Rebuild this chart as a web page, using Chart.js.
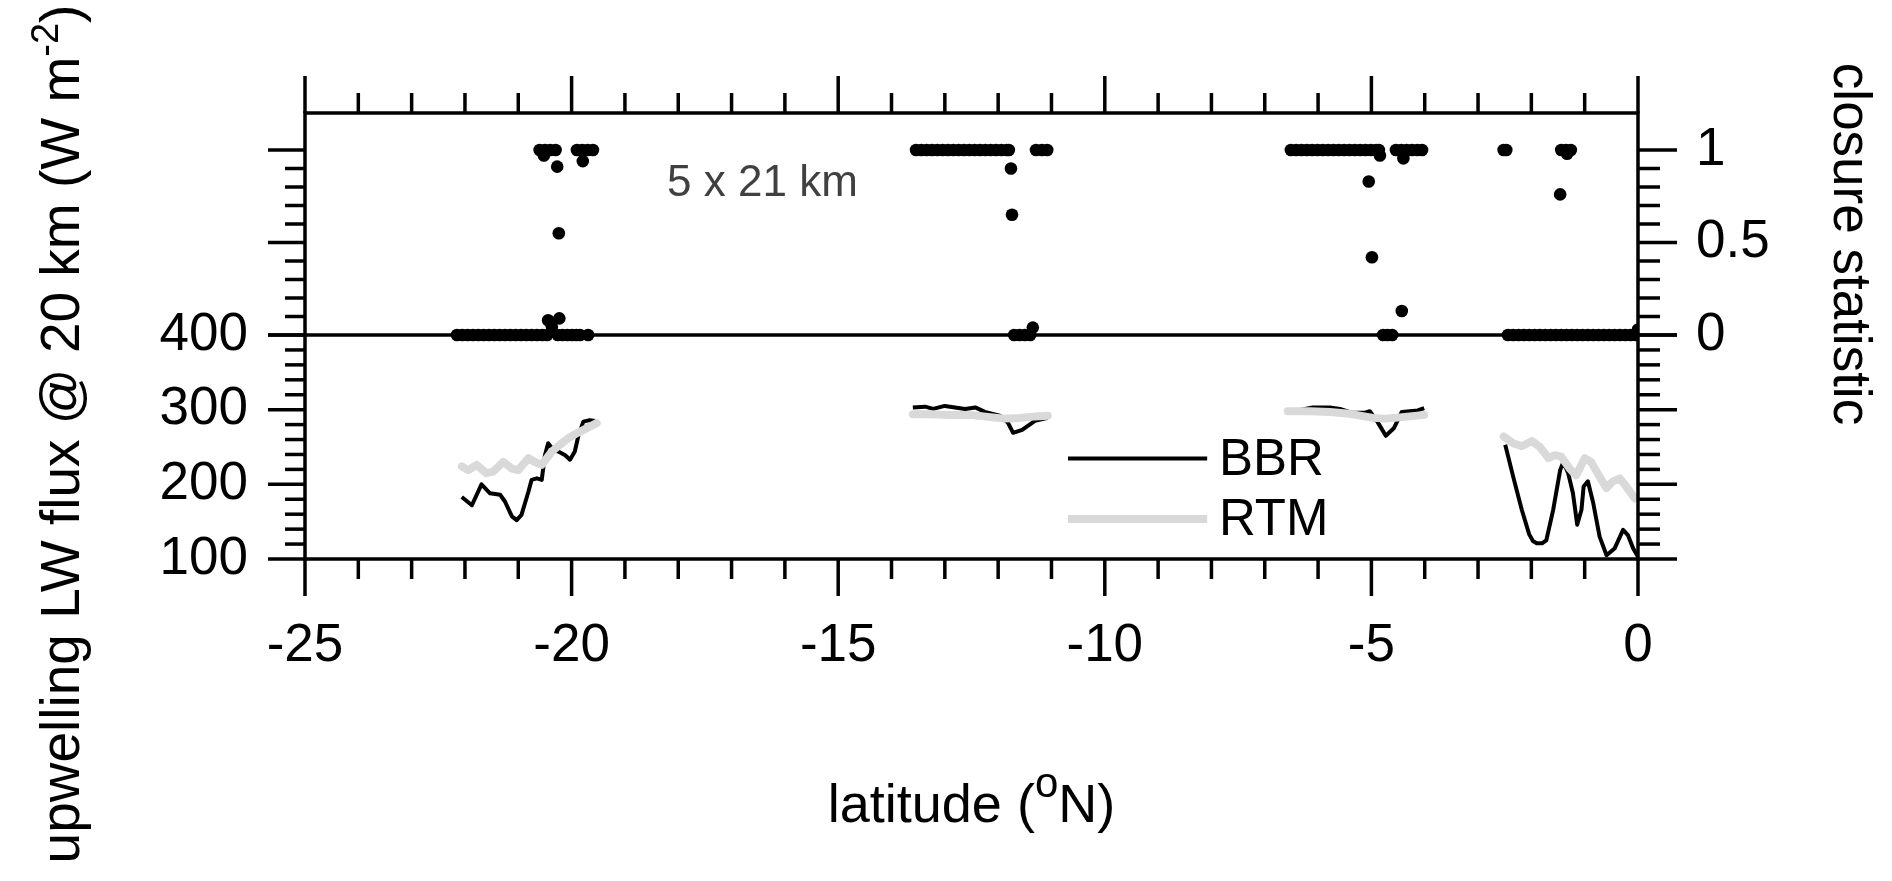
<!DOCTYPE html>
<html>
<head>
<meta charset="utf-8">
<script src="https://cdn.jsdelivr.net/npm/chart.js@4.4.1/dist/chart.umd.min.js"></script>
<style>
  html, body { margin: 0; padding: 0; background: #fff; }
</style>
</head>
<body>
<canvas id="chart" width="1892" height="881"></canvas>
<script>
const FONT = "'Liberation Sans', Arial, sans-serif";

// axis tick labels
const latTicks = [-25, -20, -15, -10, -5, 0];
const fluxTicks = [100, 200, 300, 400];
const closureTicks = [0, 0.5, 1];

// BBR flux (null = gap between flight legs)
const bbrLat = [
  -22.06, -21.87, -21.69, -21.53, -21.34, -21.25, -21.12, -21.03, -20.94, -20.81, -20.75, -20.65,
  -20.56, -20.50, -20.44, -20.34, -20.25, -20.12, -20.03, -19.94, -19.87, -19.78, -19.66, -19.56, null,
  -13.60, -13.37, -13.22, -13.00, -12.81, -12.62, -12.43, -12.25, -11.97, -11.82, -11.72, -11.55, -11.31, -11.07, null,
  -6.53, -6.10, -5.78, -5.59, -5.37, -5.12, -5.03, -4.88, -4.73, -4.58, -4.43, -4.28, -4.13, -4.01, null,
  -2.49, -2.34, -2.18, -2.04, -1.97, -1.90, -1.80, -1.72, -1.59, -1.46, -1.40, -1.31, -1.22, -1.14, -1.06,
  -1.02, -0.94, -0.84, -0.72, -0.59, -0.44, -0.28, -0.19, -0.09, 0
];
const bbrFlux = [
  183, 172, 200, 188, 186, 177, 157, 152, 159, 190, 206, 208,
  206, 239, 255, 246, 244, 239, 233, 244, 266, 284, 286, 285, null,
  303, 304, 301, 305, 303, 301, 303, 297, 292, 283, 269, 273, 285, 289, null,
  297, 303, 303, 301, 296, 296, 298, 283, 265, 275, 297, 298, 299, 302, null,
  253, 210, 166, 133, 124, 121, 121, 125, 166, 219, 230, 215, 188, 146, 166,
  197, 204, 175, 130, 105, 114, 139, 132, 114, 103
];

// RTM flux
const rtmLat = [
  -22.06, -21.94, -21.78, -21.60, -21.47, -21.28, -21.12, -21.00, -20.81, -20.69, -20.56, -20.37,
  -20.22, -20.06, -19.91, -19.72, -19.53, null,
  -13.60, -13.28, -12.90, -12.53, -12.15, -11.87, -11.59, -11.31, -11.07, null,
  -6.57, -6.15, -5.78, -5.46, -5.21, -4.97, -4.74, -4.56, -4.28, -4.01, null,
  -2.52, -2.34, -2.18, -1.99, -1.84, -1.68, -1.56, -1.44, -1.28, -1.16, -1.00, -0.88,
  -0.72, -0.59, -0.47, -0.34, -0.22, -0.06
];
const rtmFlux = [
  224, 219, 226, 215, 217, 230, 221, 219, 235, 230, 226, 244,
  253, 262, 268, 275, 282, null,
  294, 294, 293, 293, 290, 288, 289, 291, 292, null,
  298, 298, 297, 295, 292, 289, 288, 289, 291, 293, null,
  264, 255, 251, 258, 250, 235, 239, 237, 221, 212, 235, 230,
  210, 195, 204, 208, 197, 181
];

// closure statistic
const closureLat = [
  -22.15, -22.05, -21.95, -21.85, -21.75, -21.65, -21.55, -21.45, -21.35, -21.25, -21.15, -21.05,
  -20.95, -20.85, -20.75, -20.65, -20.55, -20.46, -20.26, -20.17, -20.08, -19.99, -19.91, -19.84, -19.69,
  -20.60, -20.50, -20.40, -20.30, -20.52, -20.27, -20.24, -20.44, -20.23, -20.37,
  -19.90, -19.80, -19.70, -19.60, -19.79,
  -13.54, -13.44, -13.34, -13.24, -13.14, -13.04, -12.94, -12.84, -12.74, -12.64, -12.54, -12.44,
  -12.34, -12.24, -12.14, -12.04, -11.94, -11.84, -11.80, -11.29, -11.18, -11.08,
  -11.76, -11.74, -11.70, -11.60, -11.50, -11.40, -11.35,
  -6.51, -6.41, -6.31, -6.21, -6.11, -6.01, -5.91, -5.81, -5.71, -5.61, -5.51, -5.41,
  -5.31, -5.21, -5.11, -5.01, -4.91, -4.86, -4.84, -4.54, -4.44, -4.34, -4.24, -4.14, -4.05, -4.40,
  -5.05, -4.99, -4.43, -4.78, -4.70, -4.61,
  -2.52, -2.47, -1.44, -1.35, -1.26, -1.33, -1.46,
  -2.44, -2.34, -2.24, -2.14, -2.04, -1.94, -1.84, -1.74, -1.64, -1.54, -1.44, -1.34, -1.24,
  -1.14, -1.04, -0.94, -0.84, -0.74, -0.64, -0.54, -0.44, -0.34, -0.24, -0.14, -0.04, 0, -1.33
];
const closureVal = [
  0, 0, 0, 0, 0, 0, 0, 0, 0, 0, 0, 0,
  0, 0, 0, 0, 0, 0, 0, 0, 0, 0, 0, 0, 0,
  1, 1, 1, 1, 0.97, 0.91, 0.55, 0.08, 0.09, 0.045,
  1, 1, 1, 1, 0.94,
  1, 1, 1, 1, 1, 1, 1, 1, 1, 1, 1, 1,
  1, 1, 1, 1, 1, 1, 1, 1, 1, 1,
  0.90, 0.65, 0, 0, 0, 0, 0.04,
  1, 1, 1, 1, 1, 1, 1, 1, 1, 1, 1, 1,
  1, 1, 1, 1, 1, 1, 0.97, 1, 1, 1, 1, 1, 1, 0.955,
  0.83, 0.42, 0.13, 0, 0, 0,
  1, 1, 1, 1, 1, 0.98, 0.76,
  0, 0, 0, 0, 0, 0, 0, 0, 0, 0, 0, 0, 0,
  0, 0, 0, 0, 0, 0, 0, 0, 0, 0, 0, 0, 0.03
];

// panel heights (px): lower flux panel 100-400, upper closure panel 0-1.2
const FLUX_PANEL = 224;
const CLOSURE_PANEL = 222;
const CLOSURE_TOP = 1.2;

const toXY = (xs, ys) => xs.map((x, i) => ({ x: x, y: ys[i] }));
const fixTicks = vals => scale => { scale.ticks = vals.map(v => ({ value: v })); };

function drawParts(ctx, parts, x, y) {
  // parts: [text, size, raise]
  let total = 0;
  parts.forEach(p => { ctx.font = p[1] + 'px ' + FONT; total += ctx.measureText(p[0]).width; });
  let cx = x - total / 2;
  parts.forEach(p => {
    ctx.font = p[1] + 'px ' + FONT;
    ctx.fillText(p[0], cx, y - p[2]);
    cx += ctx.measureText(p[0]).width;
  });
}

const framePlugin = {
  id: 'frame',
  afterDatasetsDraw(chart) {
    const { ctx, chartArea: a, scales } = chart;
    const xs = scales.x, yF = scales.yFlux, yC = scales.yClose;
    const MAJOR = 37, MINOR = 20;
    const seg = (x1, y1, x2, y2) => { ctx.beginPath(); ctx.moveTo(x1, y1); ctx.lineTo(x2, y2); ctx.stroke(); };

    ctx.save();
    ctx.strokeStyle = '#000';
    ctx.lineWidth = 3.5;
    ctx.strokeRect(a.left, a.top, a.right - a.left, a.bottom - a.top);
    const yZero = yC.getPixelForValue(0);
    seg(a.left, yZero, a.right, yZero);

    for (let v = -25; v <= 0; v++) {
      const px = xs.getPixelForValue(v);
      const len = v % 5 === 0 ? MAJOR : MINOR;
      seg(px, a.bottom, px, a.bottom + len);
      seg(px, a.top, px, a.top - len);
    }
    for (let v = 100; v <= 400; v += 20) {
      const py = yF.getPixelForValue(v);
      const len = v % 100 === 0 ? MAJOR : MINOR;
      seg(a.left, py, a.left - len, py);
      seg(a.right, py, a.right + len + 2, py);
    }
    for (let i = 0; i <= 10; i++) {
      const py = yC.getPixelForValue(i / 10);
      const len = i % 5 === 0 ? MAJOR : MINOR;
      seg(a.left, py, a.left - len, py);
      seg(a.right, py, a.right + len + 2, py);
    }

    // legend
    const ds = chart.data.datasets;
    const lx1 = xs.getPixelForValue(-10.69), lx2 = xs.getPixelForValue(-8.08);
    const rows = [[ds[1], 234.6], [ds[0], 153.6]];
    ctx.textAlign = 'left';
    ctx.textBaseline = 'middle';
    ctx.fillStyle = '#000';
    ctx.font = '51px ' + FONT;
    rows.forEach(([d, v]) => {
      const py = yF.getPixelForValue(v);
      ctx.strokeStyle = d.borderColor;
      ctx.lineWidth = d.borderWidth;
      seg(lx1, py, lx2, py);
      ctx.fillText(d.label, xs.getPixelForValue(-7.86), py + 2);
    });

    // annotation
    ctx.fillStyle = '#404040';
    ctx.font = '44px ' + FONT;
    ctx.textBaseline = 'alphabetic';
    ctx.fillText('5 x 21 km', xs.getPixelForValue(-18.21), yC.getPixelForValue(0.75));

    // axis titles
    ctx.fillStyle = '#000';
    drawParts(ctx, [['latitude (', 54, 0], ['o', 42, 25], ['N)', 54, 0]], (a.left + a.right) / 2, 822);

    ctx.save();
    ctx.translate(79, 434);
    ctx.rotate(-Math.PI / 2);
    drawParts(ctx, [['upwelling LW flux @ 20 km (W m', 55, 0], ['-2', 38, 21], [')', 55, 0]], 0, 0);
    ctx.restore();

    ctx.save();
    ctx.translate(1834, 244);
    ctx.rotate(Math.PI / 2);
    drawParts(ctx, [['closure statistic', 53, 0]], 0, 0);
    ctx.restore();

    ctx.restore();
  }
};

const tickFont = { family: FONT, size: 53 };

new Chart(document.getElementById('chart'), {
  type: 'scatter',
  data: {
    datasets: [
      {
        label: 'RTM', type: 'line', yAxisID: 'yFlux', order: 0,
        data: toXY(rtmLat, rtmFlux),
        borderColor: '#d9d9d9', borderWidth: 8, pointRadius: 0, spanGaps: false,
        borderCapStyle: 'round', borderJoinStyle: 'round'
      },
      {
        label: 'BBR', type: 'line', yAxisID: 'yFlux', order: 1,
        data: toXY(bbrLat, bbrFlux),
        borderColor: '#000', borderWidth: 4, pointRadius: 0, spanGaps: false,
        borderJoinStyle: 'round'
      },
      {
        label: 'closure', yAxisID: 'yClose', order: 2, clip: 0,
        data: toXY(closureLat, closureVal),
        backgroundColor: '#000', borderWidth: 0, pointRadius: 6.3
      }
    ]
  },
  options: {
    responsive: false,
    devicePixelRatio: 1,
    animation: false,
    events: [],
    layout: { padding: { top: 113, left: 0, right: 0, bottom: 0 } },
    plugins: { legend: { display: false }, tooltip: { enabled: false } },
    scales: {
      x: {
        type: 'linear', position: 'bottom', min: -25, max: 0,
        afterBuildTicks: fixTicks(latTicks),
        afterFit: s => { s.height = 881 - 559; },
        grid: { drawOnChartArea: false, tickLength: 36, tickColor: 'rgba(0,0,0,0)' },
        border: { display: false },
        ticks: { font: tickFont, color: '#000', padding: 20, maxRotation: 0, autoSkip: false, callback: v => String(v) }
      },
      yFlux: {
        type: 'linear', position: 'left',
        min: 100, max: 400 + 300 * CLOSURE_PANEL / FLUX_PANEL,
        afterBuildTicks: fixTicks(fluxTicks),
        afterFit: s => { s.width = 305; },
        grid: { drawOnChartArea: false, tickLength: 37, tickColor: 'rgba(0,0,0,0)' },
        border: { display: false },
        ticks: { font: tickFont, color: '#000', padding: 20, autoSkip: false, callback: v => String(v) }
      },
      yClose: {
        type: 'linear', position: 'right',
        min: -CLOSURE_TOP * FLUX_PANEL / CLOSURE_PANEL, max: CLOSURE_TOP,
        afterBuildTicks: fixTicks(closureTicks),
        afterFit: s => { s.width = 1892 - 1638; },
        grid: { drawOnChartArea: false, tickLength: 39, tickColor: 'rgba(0,0,0,0)' },
        border: { display: false },
        ticks: { font: tickFont, color: '#000', padding: 19, autoSkip: false, callback: v => String(v) }
      }
    }
  },
  plugins: [framePlugin]
});
</script>
</body>
</html>
